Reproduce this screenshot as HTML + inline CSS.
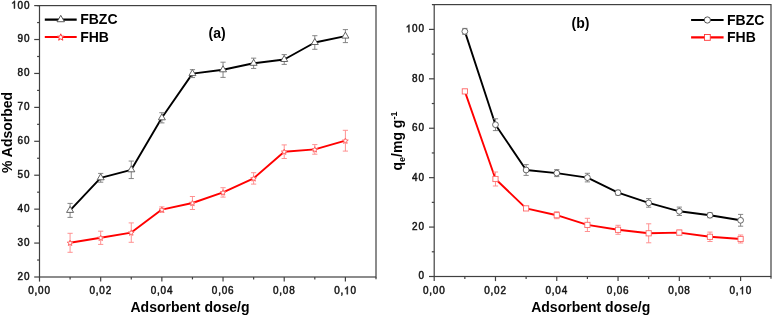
<!DOCTYPE html>
<html><head><meta charset="utf-8"><style>
html,body{margin:0;padding:0;background:#fff;}
body{width:772px;height:316px;overflow:hidden;}
svg{display:block;will-change:transform;}
text{font-family:"Liberation Sans",sans-serif;fill:#111;}
.tk{font-size:10.7px;font-weight:normal;stroke:#1a1a1a;stroke-width:0.5px;}
.tkp{fill:#111;stroke:#1a1a1a;stroke-width:95px;}
.lg{font-size:14px;font-weight:bold;fill:#000;}
.tt{font-size:14px;font-weight:bold;fill:#000;}
</style></head><body>
<svg width="772" height="316" viewBox="0 0 772 316">
<rect width="772" height="316" fill="#fff"/>
<rect x="39.5" y="5.6" width="336.50" height="271.40" fill="none" stroke="#404040" stroke-width="1.2"/>
<path d="M37.20 5.6H39.5M376.0 277.0V279.30" stroke="#404040" stroke-width="1.2"/>
<rect x="434.2" y="4.6" width="336.80" height="271.90" fill="none" stroke="#404040" stroke-width="1.2"/>
<path d="M431.90 4.6H434.2M771.0 276.5V278.80" stroke="#404040" stroke-width="1.2"/>
<line x1="39.50" y1="277.0" x2="39.50" y2="281.60" stroke="#404040" stroke-width="1.2"/>
<text transform="translate(31.10,294.20) scale(0.93,1)" text-anchor="middle" class="tk">0</text><text transform="translate(35.99,294.20) scale(0.93,1)" text-anchor="middle" class="tk">,</text><text transform="translate(40.88,294.20) scale(0.93,1)" text-anchor="middle" class="tk">0</text><text transform="translate(47.30,294.20) scale(0.93,1)" text-anchor="middle" class="tk">0</text>
<line x1="70.09" y1="277.0" x2="70.09" y2="279.40" stroke="#404040" stroke-width="1.2"/>
<line x1="100.68" y1="277.0" x2="100.68" y2="281.60" stroke="#404040" stroke-width="1.2"/>
<text transform="translate(92.28,294.20) scale(0.93,1)" text-anchor="middle" class="tk">0</text><text transform="translate(97.17,294.20) scale(0.93,1)" text-anchor="middle" class="tk">,</text><text transform="translate(102.06,294.20) scale(0.93,1)" text-anchor="middle" class="tk">0</text><text transform="translate(108.48,294.20) scale(0.93,1)" text-anchor="middle" class="tk">2</text>
<line x1="131.27" y1="277.0" x2="131.27" y2="279.40" stroke="#404040" stroke-width="1.2"/>
<line x1="161.86" y1="277.0" x2="161.86" y2="281.60" stroke="#404040" stroke-width="1.2"/>
<text transform="translate(153.46,294.20) scale(0.93,1)" text-anchor="middle" class="tk">0</text><text transform="translate(158.35,294.20) scale(0.93,1)" text-anchor="middle" class="tk">,</text><text transform="translate(163.24,294.20) scale(0.93,1)" text-anchor="middle" class="tk">0</text><text transform="translate(169.66,294.20) scale(0.93,1)" text-anchor="middle" class="tk">4</text>
<line x1="192.45" y1="277.0" x2="192.45" y2="279.40" stroke="#404040" stroke-width="1.2"/>
<line x1="223.04" y1="277.0" x2="223.04" y2="281.60" stroke="#404040" stroke-width="1.2"/>
<text transform="translate(214.64,294.20) scale(0.93,1)" text-anchor="middle" class="tk">0</text><text transform="translate(219.53,294.20) scale(0.93,1)" text-anchor="middle" class="tk">,</text><text transform="translate(224.42,294.20) scale(0.93,1)" text-anchor="middle" class="tk">0</text><text transform="translate(230.84,294.20) scale(0.93,1)" text-anchor="middle" class="tk">6</text>
<line x1="253.63" y1="277.0" x2="253.63" y2="279.40" stroke="#404040" stroke-width="1.2"/>
<line x1="284.22" y1="277.0" x2="284.22" y2="281.60" stroke="#404040" stroke-width="1.2"/>
<text transform="translate(275.82,294.20) scale(0.93,1)" text-anchor="middle" class="tk">0</text><text transform="translate(280.71,294.20) scale(0.93,1)" text-anchor="middle" class="tk">,</text><text transform="translate(285.60,294.20) scale(0.93,1)" text-anchor="middle" class="tk">0</text><text transform="translate(292.02,294.20) scale(0.93,1)" text-anchor="middle" class="tk">8</text>
<line x1="314.81" y1="277.0" x2="314.81" y2="279.40" stroke="#404040" stroke-width="1.2"/>
<line x1="345.40" y1="277.0" x2="345.40" y2="281.60" stroke="#404040" stroke-width="1.2"/>
<text transform="translate(337.00,294.20) scale(0.93,1)" text-anchor="middle" class="tk">0</text><text transform="translate(341.89,294.20) scale(0.93,1)" text-anchor="middle" class="tk">,</text><path class="tkp" transform="translate(346.78,294.20) scale(0.004859,-0.005225) translate(-569.5,0)" d="M763 0H583V1147Q520 1087 418 1027Q316 967 235 937V1111Q381 1180 490 1278Q599 1376 645 1466H763Z"/><text transform="translate(353.20,294.20) scale(0.93,1)" text-anchor="middle" class="tk">0</text>
<line x1="434.20" y1="276.5" x2="434.20" y2="281.10" stroke="#404040" stroke-width="1.2"/>
<text transform="translate(425.80,294.20) scale(0.93,1)" text-anchor="middle" class="tk">0</text><text transform="translate(430.69,294.20) scale(0.93,1)" text-anchor="middle" class="tk">,</text><text transform="translate(435.58,294.20) scale(0.93,1)" text-anchor="middle" class="tk">0</text><text transform="translate(442.00,294.20) scale(0.93,1)" text-anchor="middle" class="tk">0</text>
<line x1="464.84" y1="276.5" x2="464.84" y2="278.90" stroke="#404040" stroke-width="1.2"/>
<line x1="495.48" y1="276.5" x2="495.48" y2="281.10" stroke="#404040" stroke-width="1.2"/>
<text transform="translate(487.08,294.20) scale(0.93,1)" text-anchor="middle" class="tk">0</text><text transform="translate(491.97,294.20) scale(0.93,1)" text-anchor="middle" class="tk">,</text><text transform="translate(496.86,294.20) scale(0.93,1)" text-anchor="middle" class="tk">0</text><text transform="translate(503.28,294.20) scale(0.93,1)" text-anchor="middle" class="tk">2</text>
<line x1="526.12" y1="276.5" x2="526.12" y2="278.90" stroke="#404040" stroke-width="1.2"/>
<line x1="556.76" y1="276.5" x2="556.76" y2="281.10" stroke="#404040" stroke-width="1.2"/>
<text transform="translate(548.36,294.20) scale(0.93,1)" text-anchor="middle" class="tk">0</text><text transform="translate(553.25,294.20) scale(0.93,1)" text-anchor="middle" class="tk">,</text><text transform="translate(558.14,294.20) scale(0.93,1)" text-anchor="middle" class="tk">0</text><text transform="translate(564.56,294.20) scale(0.93,1)" text-anchor="middle" class="tk">4</text>
<line x1="587.40" y1="276.5" x2="587.40" y2="278.90" stroke="#404040" stroke-width="1.2"/>
<line x1="618.04" y1="276.5" x2="618.04" y2="281.10" stroke="#404040" stroke-width="1.2"/>
<text transform="translate(609.64,294.20) scale(0.93,1)" text-anchor="middle" class="tk">0</text><text transform="translate(614.53,294.20) scale(0.93,1)" text-anchor="middle" class="tk">,</text><text transform="translate(619.42,294.20) scale(0.93,1)" text-anchor="middle" class="tk">0</text><text transform="translate(625.84,294.20) scale(0.93,1)" text-anchor="middle" class="tk">6</text>
<line x1="648.68" y1="276.5" x2="648.68" y2="278.90" stroke="#404040" stroke-width="1.2"/>
<line x1="679.32" y1="276.5" x2="679.32" y2="281.10" stroke="#404040" stroke-width="1.2"/>
<text transform="translate(670.92,294.20) scale(0.93,1)" text-anchor="middle" class="tk">0</text><text transform="translate(675.81,294.20) scale(0.93,1)" text-anchor="middle" class="tk">,</text><text transform="translate(680.70,294.20) scale(0.93,1)" text-anchor="middle" class="tk">0</text><text transform="translate(687.12,294.20) scale(0.93,1)" text-anchor="middle" class="tk">8</text>
<line x1="709.96" y1="276.5" x2="709.96" y2="278.90" stroke="#404040" stroke-width="1.2"/>
<line x1="740.60" y1="276.5" x2="740.60" y2="281.10" stroke="#404040" stroke-width="1.2"/>
<text transform="translate(732.20,294.20) scale(0.93,1)" text-anchor="middle" class="tk">0</text><text transform="translate(737.09,294.20) scale(0.93,1)" text-anchor="middle" class="tk">,</text><path class="tkp" transform="translate(741.98,294.20) scale(0.004859,-0.005225) translate(-569.5,0)" d="M763 0H583V1147Q520 1087 418 1027Q316 967 235 937V1111Q381 1180 490 1278Q599 1376 645 1466H763Z"/><text transform="translate(748.40,294.20) scale(0.93,1)" text-anchor="middle" class="tk">0</text>
<line x1="34.20" y1="277.00" x2="39.5" y2="277.00" stroke="#404040" stroke-width="1.2"/>
<text transform="translate(20.37,279.90) scale(0.93,1)" text-anchor="middle" class="tk">2</text><text transform="translate(26.84,279.90) scale(0.93,1)" text-anchor="middle" class="tk">0</text>
<line x1="37.10" y1="260.04" x2="39.5" y2="260.04" stroke="#404040" stroke-width="1.2"/>
<line x1="34.20" y1="243.07" x2="39.5" y2="243.07" stroke="#404040" stroke-width="1.2"/>
<text transform="translate(20.37,245.97) scale(0.93,1)" text-anchor="middle" class="tk">3</text><text transform="translate(26.84,245.97) scale(0.93,1)" text-anchor="middle" class="tk">0</text>
<line x1="37.10" y1="226.11" x2="39.5" y2="226.11" stroke="#404040" stroke-width="1.2"/>
<line x1="34.20" y1="209.15" x2="39.5" y2="209.15" stroke="#404040" stroke-width="1.2"/>
<text transform="translate(20.37,212.05) scale(0.93,1)" text-anchor="middle" class="tk">4</text><text transform="translate(26.84,212.05) scale(0.93,1)" text-anchor="middle" class="tk">0</text>
<line x1="37.10" y1="192.19" x2="39.5" y2="192.19" stroke="#404040" stroke-width="1.2"/>
<line x1="34.20" y1="175.22" x2="39.5" y2="175.22" stroke="#404040" stroke-width="1.2"/>
<text transform="translate(20.37,178.12) scale(0.93,1)" text-anchor="middle" class="tk">5</text><text transform="translate(26.84,178.12) scale(0.93,1)" text-anchor="middle" class="tk">0</text>
<line x1="37.10" y1="158.26" x2="39.5" y2="158.26" stroke="#404040" stroke-width="1.2"/>
<line x1="34.20" y1="141.30" x2="39.5" y2="141.30" stroke="#404040" stroke-width="1.2"/>
<text transform="translate(20.37,144.20) scale(0.93,1)" text-anchor="middle" class="tk">6</text><text transform="translate(26.84,144.20) scale(0.93,1)" text-anchor="middle" class="tk">0</text>
<line x1="37.10" y1="124.34" x2="39.5" y2="124.34" stroke="#404040" stroke-width="1.2"/>
<line x1="34.20" y1="107.38" x2="39.5" y2="107.38" stroke="#404040" stroke-width="1.2"/>
<text transform="translate(20.37,110.28) scale(0.93,1)" text-anchor="middle" class="tk">7</text><text transform="translate(26.84,110.28) scale(0.93,1)" text-anchor="middle" class="tk">0</text>
<line x1="37.10" y1="90.41" x2="39.5" y2="90.41" stroke="#404040" stroke-width="1.2"/>
<line x1="34.20" y1="73.45" x2="39.5" y2="73.45" stroke="#404040" stroke-width="1.2"/>
<text transform="translate(20.37,76.35) scale(0.93,1)" text-anchor="middle" class="tk">8</text><text transform="translate(26.84,76.35) scale(0.93,1)" text-anchor="middle" class="tk">0</text>
<line x1="37.10" y1="56.49" x2="39.5" y2="56.49" stroke="#404040" stroke-width="1.2"/>
<line x1="34.20" y1="39.52" x2="39.5" y2="39.52" stroke="#404040" stroke-width="1.2"/>
<text transform="translate(20.37,42.42) scale(0.93,1)" text-anchor="middle" class="tk">9</text><text transform="translate(26.84,42.42) scale(0.93,1)" text-anchor="middle" class="tk">0</text>
<line x1="37.10" y1="22.56" x2="39.5" y2="22.56" stroke="#404040" stroke-width="1.2"/>
<line x1="34.20" y1="5.60" x2="39.5" y2="5.60" stroke="#404040" stroke-width="1.2"/>
<path class="tkp" transform="translate(13.91,8.50) scale(0.004859,-0.005225) translate(-569.5,0)" d="M763 0H583V1147Q520 1087 418 1027Q316 967 235 937V1111Q381 1180 490 1278Q599 1376 645 1466H763Z"/><text transform="translate(20.37,8.50) scale(0.93,1)" text-anchor="middle" class="tk">0</text><text transform="translate(26.84,8.50) scale(0.93,1)" text-anchor="middle" class="tk">0</text>
<line x1="429.00" y1="276.50" x2="434.2" y2="276.50" stroke="#404040" stroke-width="1.2"/>
<text transform="translate(421.34,279.40) scale(0.93,1)" text-anchor="middle" class="tk">0</text>
<line x1="431.80" y1="251.79" x2="434.2" y2="251.79" stroke="#404040" stroke-width="1.2"/>
<line x1="429.00" y1="227.08" x2="434.2" y2="227.08" stroke="#404040" stroke-width="1.2"/>
<text transform="translate(414.87,229.98) scale(0.93,1)" text-anchor="middle" class="tk">2</text><text transform="translate(421.34,229.98) scale(0.93,1)" text-anchor="middle" class="tk">0</text>
<line x1="431.80" y1="202.37" x2="434.2" y2="202.37" stroke="#404040" stroke-width="1.2"/>
<line x1="429.00" y1="177.66" x2="434.2" y2="177.66" stroke="#404040" stroke-width="1.2"/>
<text transform="translate(414.87,180.56) scale(0.93,1)" text-anchor="middle" class="tk">4</text><text transform="translate(421.34,180.56) scale(0.93,1)" text-anchor="middle" class="tk">0</text>
<line x1="431.80" y1="152.95" x2="434.2" y2="152.95" stroke="#404040" stroke-width="1.2"/>
<line x1="429.00" y1="128.24" x2="434.2" y2="128.24" stroke="#404040" stroke-width="1.2"/>
<text transform="translate(414.87,131.14) scale(0.93,1)" text-anchor="middle" class="tk">6</text><text transform="translate(421.34,131.14) scale(0.93,1)" text-anchor="middle" class="tk">0</text>
<line x1="431.80" y1="103.53" x2="434.2" y2="103.53" stroke="#404040" stroke-width="1.2"/>
<line x1="429.00" y1="78.82" x2="434.2" y2="78.82" stroke="#404040" stroke-width="1.2"/>
<text transform="translate(414.87,81.72) scale(0.93,1)" text-anchor="middle" class="tk">8</text><text transform="translate(421.34,81.72) scale(0.93,1)" text-anchor="middle" class="tk">0</text>
<line x1="431.80" y1="54.11" x2="434.2" y2="54.11" stroke="#404040" stroke-width="1.2"/>
<line x1="429.00" y1="29.40" x2="434.2" y2="29.40" stroke="#404040" stroke-width="1.2"/>
<path class="tkp" transform="translate(408.41,32.30) scale(0.004859,-0.005225) translate(-569.5,0)" d="M763 0H583V1147Q520 1087 418 1027Q316 967 235 937V1111Q381 1180 490 1278Q599 1376 645 1466H763Z"/><text transform="translate(414.87,32.30) scale(0.93,1)" text-anchor="middle" class="tk">0</text><text transform="translate(421.34,32.30) scale(0.93,1)" text-anchor="middle" class="tk">0</text>
<polyline points="70.09,210.40 100.68,177.80 131.27,169.80 161.86,117.80 192.45,73.60 223.04,69.80 253.63,63.30 284.22,59.50 314.81,42.50 345.40,36.10" fill="none" stroke="#000" stroke-width="1.9" stroke-linejoin="round"/>
<path d="M70.09 203.40V217.40M67.49 203.40h5.2M67.49 217.40h5.2" stroke="#808080" stroke-width="0.95" fill="none"/>
<path d="M100.68 173.40V182.20M98.08 173.40h5.2M98.08 182.20h5.2" stroke="#808080" stroke-width="0.95" fill="none"/>
<path d="M131.27 161.05V178.55M128.67 161.05h5.2M128.67 178.55h5.2" stroke="#808080" stroke-width="0.95" fill="none"/>
<path d="M161.86 112.70V122.90M159.26 112.70h5.2M159.26 122.90h5.2" stroke="#808080" stroke-width="0.95" fill="none"/>
<path d="M192.45 69.65V77.55M189.85 69.65h5.2M189.85 77.55h5.2" stroke="#808080" stroke-width="0.95" fill="none"/>
<path d="M223.04 62.20V77.40M220.44 62.20h5.2M220.44 77.40h5.2" stroke="#808080" stroke-width="0.95" fill="none"/>
<path d="M253.63 58.15V68.45M251.03 58.15h5.2M251.03 68.45h5.2" stroke="#808080" stroke-width="0.95" fill="none"/>
<path d="M284.22 54.60V64.40M281.62 54.60h5.2M281.62 64.40h5.2" stroke="#808080" stroke-width="0.95" fill="none"/>
<path d="M314.81 35.70V49.30M312.21 35.70h5.2M312.21 49.30h5.2" stroke="#808080" stroke-width="0.95" fill="none"/>
<path d="M345.40 29.60V42.60M342.80 29.60h5.2M342.80 42.60h5.2" stroke="#808080" stroke-width="0.95" fill="none"/>
<path d="M70.09 206.40L73.59 212.40H66.59Z" fill="#fff" stroke="#555" stroke-width="0.9"/>
<path d="M100.68 173.80L104.18 179.80H97.18Z" fill="#fff" stroke="#555" stroke-width="0.9"/>
<path d="M131.27 165.80L134.77 171.80H127.77Z" fill="#fff" stroke="#555" stroke-width="0.9"/>
<path d="M161.86 113.80L165.36 119.80H158.36Z" fill="#fff" stroke="#555" stroke-width="0.9"/>
<path d="M192.45 69.60L195.95 75.60H188.95Z" fill="#fff" stroke="#555" stroke-width="0.9"/>
<path d="M223.04 65.80L226.54 71.80H219.54Z" fill="#fff" stroke="#555" stroke-width="0.9"/>
<path d="M253.63 59.30L257.13 65.30H250.13Z" fill="#fff" stroke="#555" stroke-width="0.9"/>
<path d="M284.22 55.50L287.72 61.50H280.72Z" fill="#fff" stroke="#555" stroke-width="0.9"/>
<path d="M314.81 38.50L318.31 44.50H311.31Z" fill="#fff" stroke="#555" stroke-width="0.9"/>
<path d="M345.40 32.10L348.90 38.10H341.90Z" fill="#fff" stroke="#555" stroke-width="0.9"/>
<polyline points="70.09,242.80 100.68,237.80 131.27,232.60 161.86,209.60 192.45,203.00 223.04,192.40 253.63,178.40 284.22,151.70 314.81,149.40 345.40,140.70" fill="none" stroke="#f00" stroke-width="1.9" stroke-linejoin="round"/>
<path d="M70.09 233.30V252.30M67.49 233.30h5.2M67.49 252.30h5.2" stroke="#ff8c8c" stroke-width="0.95" fill="none"/>
<path d="M100.68 231.20V244.40M98.08 231.20h5.2M98.08 244.40h5.2" stroke="#ff8c8c" stroke-width="0.95" fill="none"/>
<path d="M131.27 222.90V242.30M128.67 222.90h5.2M128.67 242.30h5.2" stroke="#ff8c8c" stroke-width="0.95" fill="none"/>
<path d="M161.86 206.90V212.30M159.26 206.90h5.2M159.26 212.30h5.2" stroke="#ff8c8c" stroke-width="0.95" fill="none"/>
<path d="M192.45 196.50V209.50M189.85 196.50h5.2M189.85 209.50h5.2" stroke="#ff8c8c" stroke-width="0.95" fill="none"/>
<path d="M223.04 187.70V197.10M220.44 187.70h5.2M220.44 197.10h5.2" stroke="#ff8c8c" stroke-width="0.95" fill="none"/>
<path d="M253.63 172.70V184.10M251.03 172.70h5.2M251.03 184.10h5.2" stroke="#ff8c8c" stroke-width="0.95" fill="none"/>
<path d="M284.22 144.90V158.50M281.62 144.90h5.2M281.62 158.50h5.2" stroke="#ff8c8c" stroke-width="0.95" fill="none"/>
<path d="M314.81 144.60V154.20M312.21 144.60h5.2M312.21 154.20h5.2" stroke="#ff8c8c" stroke-width="0.95" fill="none"/>
<path d="M345.40 130.30V151.10M342.80 130.30h5.2M342.80 151.10h5.2" stroke="#ff8c8c" stroke-width="0.95" fill="none"/>
<polygon points="70.09,240.10 70.85,242.05 72.94,242.17 71.33,243.50 71.85,245.53 70.09,244.40 68.33,245.53 68.85,243.50 67.24,242.17 69.33,242.05" fill="#fff" stroke="#f66" stroke-width="1"/>
<polygon points="100.68,235.10 101.44,237.05 103.53,237.17 101.92,238.50 102.44,240.53 100.68,239.40 98.92,240.53 99.44,238.50 97.83,237.17 99.92,237.05" fill="#fff" stroke="#f66" stroke-width="1"/>
<polygon points="131.27,229.90 132.03,231.85 134.12,231.97 132.51,233.30 133.03,235.33 131.27,234.20 129.51,235.33 130.03,233.30 128.42,231.97 130.51,231.85" fill="#fff" stroke="#f66" stroke-width="1"/>
<polygon points="161.86,206.90 162.62,208.85 164.71,208.97 163.10,210.30 163.62,212.33 161.86,211.20 160.10,212.33 160.62,210.30 159.01,208.97 161.10,208.85" fill="#fff" stroke="#f66" stroke-width="1"/>
<polygon points="192.45,200.30 193.21,202.25 195.30,202.37 193.69,203.70 194.21,205.73 192.45,204.60 190.69,205.73 191.21,203.70 189.60,202.37 191.69,202.25" fill="#fff" stroke="#f66" stroke-width="1"/>
<polygon points="223.04,189.70 223.80,191.65 225.89,191.77 224.28,193.10 224.80,195.13 223.04,194.00 221.28,195.13 221.80,193.10 220.19,191.77 222.28,191.65" fill="#fff" stroke="#f66" stroke-width="1"/>
<polygon points="253.63,175.70 254.39,177.65 256.48,177.77 254.87,179.10 255.39,181.13 253.63,180.00 251.87,181.13 252.39,179.10 250.78,177.77 252.87,177.65" fill="#fff" stroke="#f66" stroke-width="1"/>
<polygon points="284.22,149.00 284.98,150.95 287.07,151.07 285.46,152.40 285.98,154.43 284.22,153.30 282.46,154.43 282.98,152.40 281.37,151.07 283.46,150.95" fill="#fff" stroke="#f66" stroke-width="1"/>
<polygon points="314.81,146.70 315.57,148.65 317.66,148.77 316.05,150.10 316.57,152.13 314.81,151.00 313.05,152.13 313.57,150.10 311.96,148.77 314.05,148.65" fill="#fff" stroke="#f66" stroke-width="1"/>
<polygon points="345.40,138.00 346.16,139.95 348.25,140.07 346.64,141.40 347.16,143.43 345.40,142.30 343.64,143.43 344.16,141.40 342.55,140.07 344.64,139.95" fill="#fff" stroke="#f66" stroke-width="1"/>
<polyline points="464.84,31.40 495.48,124.70 526.12,170.00 556.76,173.10 587.40,177.60 618.04,192.70 648.68,202.90 679.32,211.30 709.96,215.20 740.60,220.30" fill="none" stroke="#000" stroke-width="1.9" stroke-linejoin="round"/>
<path d="M464.84 28.40V34.40M462.24 28.40h5.2M462.24 34.40h5.2" stroke="#808080" stroke-width="0.95" fill="none"/>
<path d="M495.48 118.80V130.60M492.88 118.80h5.2M492.88 130.60h5.2" stroke="#808080" stroke-width="0.95" fill="none"/>
<path d="M526.12 164.60V175.40M523.52 164.60h5.2M523.52 175.40h5.2" stroke="#808080" stroke-width="0.95" fill="none"/>
<path d="M556.76 169.60V176.60M554.16 169.60h5.2M554.16 176.60h5.2" stroke="#808080" stroke-width="0.95" fill="none"/>
<path d="M587.40 173.30V181.90M584.80 173.30h5.2M584.80 181.90h5.2" stroke="#808080" stroke-width="0.95" fill="none"/>
<path d="M618.04 190.20V195.20M615.44 190.20h5.2M615.44 195.20h5.2" stroke="#808080" stroke-width="0.95" fill="none"/>
<path d="M648.68 198.60V207.20M646.08 198.60h5.2M646.08 207.20h5.2" stroke="#808080" stroke-width="0.95" fill="none"/>
<path d="M679.32 207.10V215.50M676.72 207.10h5.2M676.72 215.50h5.2" stroke="#808080" stroke-width="0.95" fill="none"/>
<path d="M709.96 212.70V217.70M707.36 212.70h5.2M707.36 217.70h5.2" stroke="#808080" stroke-width="0.95" fill="none"/>
<path d="M740.60 214.40V226.20M738.00 214.40h5.2M738.00 226.20h5.2" stroke="#808080" stroke-width="0.95" fill="none"/>
<circle cx="464.84" cy="31.40" r="2.90" fill="#fff" stroke="#555" stroke-width="0.9"/>
<circle cx="495.48" cy="124.70" r="2.90" fill="#fff" stroke="#555" stroke-width="0.9"/>
<circle cx="526.12" cy="170.00" r="2.90" fill="#fff" stroke="#555" stroke-width="0.9"/>
<circle cx="556.76" cy="173.10" r="2.90" fill="#fff" stroke="#555" stroke-width="0.9"/>
<circle cx="587.40" cy="177.60" r="2.90" fill="#fff" stroke="#555" stroke-width="0.9"/>
<circle cx="618.04" cy="192.70" r="2.90" fill="#fff" stroke="#555" stroke-width="0.9"/>
<circle cx="648.68" cy="202.90" r="2.90" fill="#fff" stroke="#555" stroke-width="0.9"/>
<circle cx="679.32" cy="211.30" r="2.90" fill="#fff" stroke="#555" stroke-width="0.9"/>
<circle cx="709.96" cy="215.20" r="2.90" fill="#fff" stroke="#555" stroke-width="0.9"/>
<circle cx="740.60" cy="220.30" r="2.90" fill="#fff" stroke="#555" stroke-width="0.9"/>
<polyline points="464.84,91.40 495.48,179.00 526.12,208.40 556.76,215.20 587.40,224.90 618.04,229.80 648.68,233.30 679.32,232.60 709.96,236.80 740.60,239.00" fill="none" stroke="#f00" stroke-width="1.9" stroke-linejoin="round"/>
<path d="M464.84 89.40V93.40M462.24 89.40h5.2M462.24 93.40h5.2" stroke="#ff8c8c" stroke-width="0.95" fill="none"/>
<path d="M495.48 172.00V186.00M492.88 172.00h5.2M492.88 186.00h5.2" stroke="#ff8c8c" stroke-width="0.95" fill="none"/>
<path d="M526.12 206.40V210.40M523.52 206.40h5.2M523.52 210.40h5.2" stroke="#ff8c8c" stroke-width="0.95" fill="none"/>
<path d="M556.76 211.70V218.70M554.16 211.70h5.2M554.16 218.70h5.2" stroke="#ff8c8c" stroke-width="0.95" fill="none"/>
<path d="M587.40 218.30V231.50M584.80 218.30h5.2M584.80 231.50h5.2" stroke="#ff8c8c" stroke-width="0.95" fill="none"/>
<path d="M618.04 225.30V234.30M615.44 225.30h5.2M615.44 234.30h5.2" stroke="#ff8c8c" stroke-width="0.95" fill="none"/>
<path d="M648.68 223.80V242.80M646.08 223.80h5.2M646.08 242.80h5.2" stroke="#ff8c8c" stroke-width="0.95" fill="none"/>
<path d="M679.32 230.10V235.10M676.72 230.10h5.2M676.72 235.10h5.2" stroke="#ff8c8c" stroke-width="0.95" fill="none"/>
<path d="M709.96 232.10V241.50M707.36 232.10h5.2M707.36 241.50h5.2" stroke="#ff8c8c" stroke-width="0.95" fill="none"/>
<path d="M740.60 235.00V243.00M738.00 235.00h5.2M738.00 243.00h5.2" stroke="#ff8c8c" stroke-width="0.95" fill="none"/>
<rect x="462.24" y="88.80" width="5.20" height="5.20" fill="#fff" stroke="#f66" stroke-width="0.9"/>
<rect x="492.88" y="176.40" width="5.20" height="5.20" fill="#fff" stroke="#f66" stroke-width="0.9"/>
<rect x="523.52" y="205.80" width="5.20" height="5.20" fill="#fff" stroke="#f66" stroke-width="0.9"/>
<rect x="554.16" y="212.60" width="5.20" height="5.20" fill="#fff" stroke="#f66" stroke-width="0.9"/>
<rect x="584.80" y="222.30" width="5.20" height="5.20" fill="#fff" stroke="#f66" stroke-width="0.9"/>
<rect x="615.44" y="227.20" width="5.20" height="5.20" fill="#fff" stroke="#f66" stroke-width="0.9"/>
<rect x="646.08" y="230.70" width="5.20" height="5.20" fill="#fff" stroke="#f66" stroke-width="0.9"/>
<rect x="676.72" y="230.00" width="5.20" height="5.20" fill="#fff" stroke="#f66" stroke-width="0.9"/>
<rect x="707.36" y="234.20" width="5.20" height="5.20" fill="#fff" stroke="#f66" stroke-width="0.9"/>
<rect x="738.00" y="236.40" width="5.20" height="5.20" fill="#fff" stroke="#f66" stroke-width="0.9"/>
<line x1="44.8" y1="19.6" x2="76.7" y2="19.6" stroke="#000" stroke-width="2.1"/>
<line x1="44.8" y1="37.0" x2="76.7" y2="37.0" stroke="#f00" stroke-width="2.1"/>
<path d="M60.75 15.36L64.46 21.72H57.04Z" fill="#fff" stroke="#444" stroke-width="0.9"/>
<polygon points="60.75,33.81 61.65,36.11 64.12,36.26 62.21,37.83 62.83,40.22 60.75,38.89 58.67,40.22 59.29,37.83 57.38,36.26 59.85,36.11" fill="#fff" stroke="#f33" stroke-width="1"/>
<text x="80.2" y="24.200000000000003" class="lg">FBZC</text>
<text x="80.2" y="41.6" class="lg">FHB</text>
<line x1="691.1" y1="20" x2="723.6" y2="20" stroke="#000" stroke-width="2.1"/>
<line x1="691.1" y1="37.4" x2="723.6" y2="37.4" stroke="#f00" stroke-width="2.1"/>
<circle cx="707.35" cy="20.00" r="3.13" fill="#fff" stroke="#444" stroke-width="0.9"/>
<rect x="704.44" y="34.49" width="5.82" height="5.82" fill="#fff" stroke="#f33" stroke-width="0.9"/>
<text x="727.0" y="24.6" class="lg">FBZC</text>
<text x="727.0" y="42.0" class="lg">FHB</text>
<text x="208.6" y="38.1" class="tt">(a)</text>
<text x="571.6" y="28.0" class="tt">(b)</text>
<text x="130.5" y="312.1" class="tt">Adsorbent dose/g</text>
<text x="531.2" y="312.1" class="tt">Adsorbent dose/g</text>
<text transform="translate(11.6,173) rotate(-90)" class="tt">% Adsorbed</text>
<text transform="translate(401.5,170.5) rotate(-90)" class="tt">q<tspan font-size="9" dy="3">e</tspan><tspan dy="-3">/mg g</tspan><tspan font-size="9" dy="-5">-1</tspan></text>
</svg>
</body></html>
